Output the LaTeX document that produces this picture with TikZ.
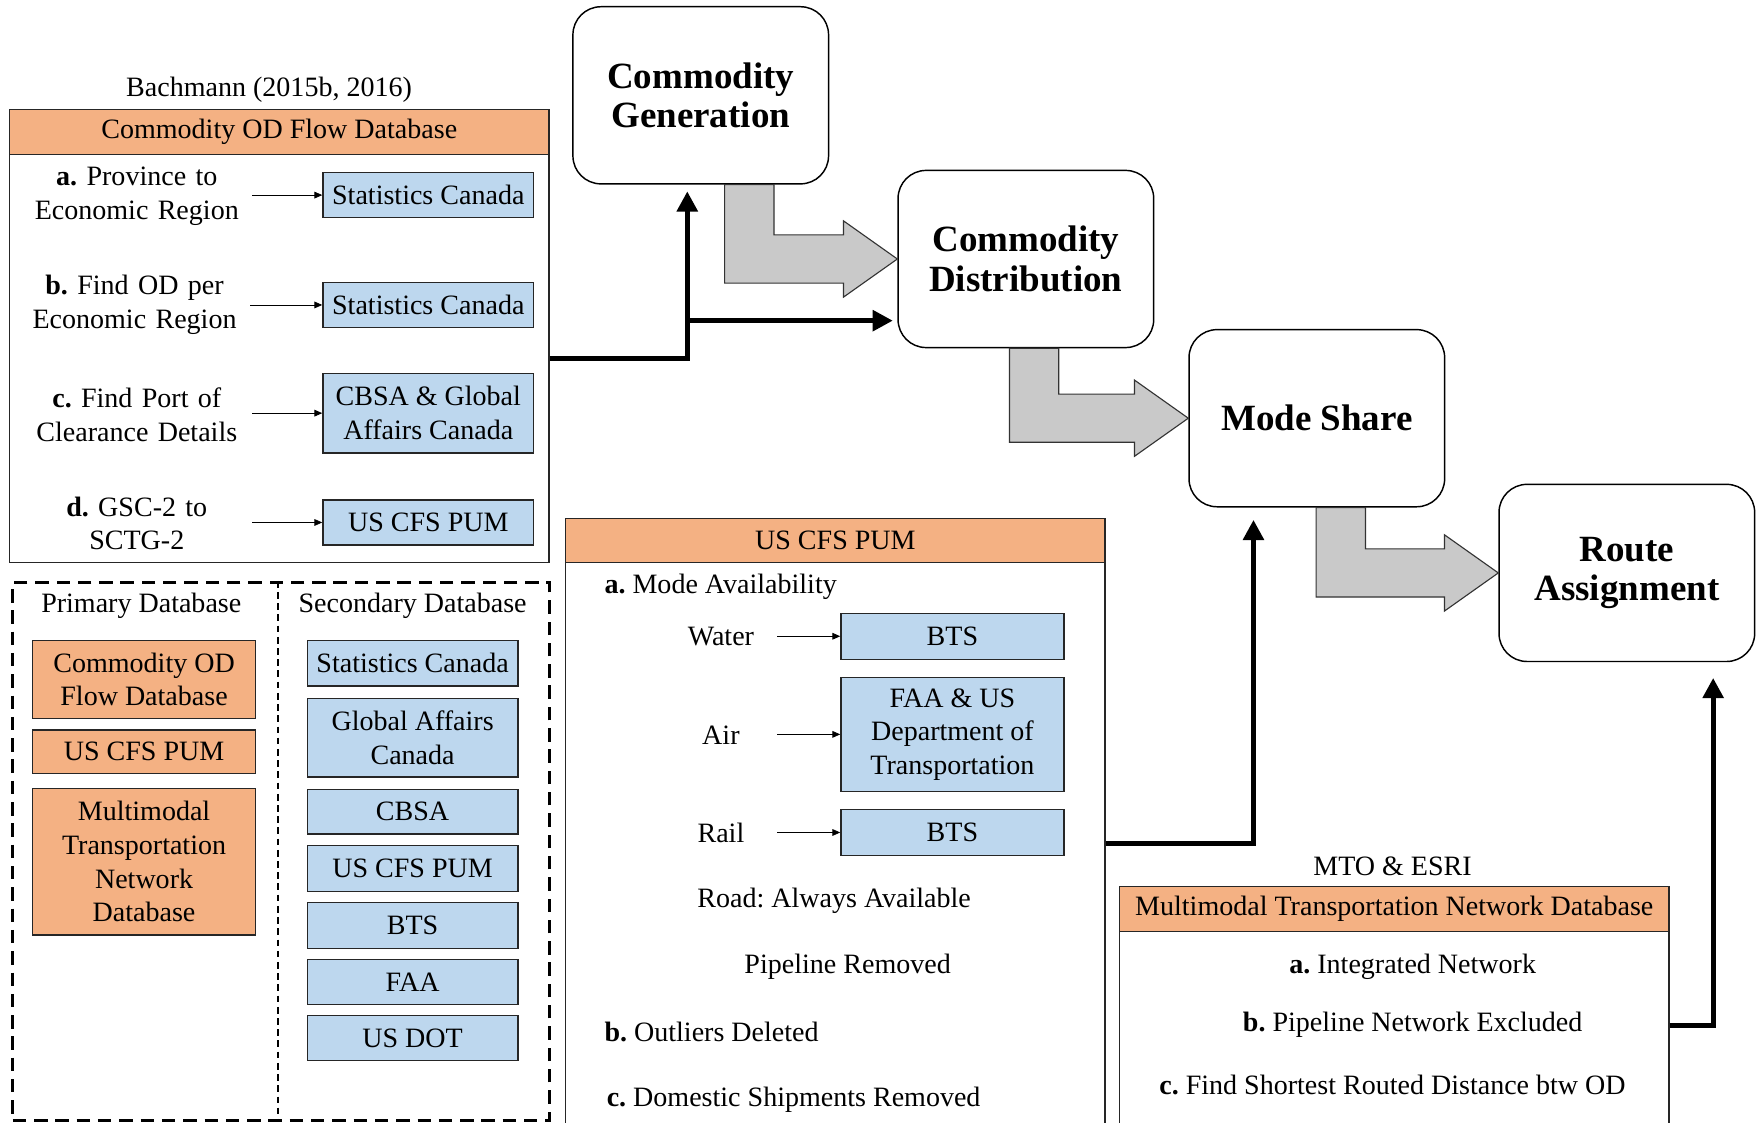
\documentclass[tikz,border=0pt]{standalone}
\usepackage{fontspec}
\setmainfont{Liberation Serif}
\usetikzlibrary{arrows.meta,calc}
\definecolor{hdrorange}{HTML}{F4B183}
\definecolor{srcblue}{HTML}{BDD7EE}
\definecolor{arrowgray}{HTML}{C9C9C9}
\newcommand\regfont{\fontsize{25}{30}\selectfont}
\newcommand\stepfont{\fontsize{33}{35}\selectfont\bfseries}
\frenchspacing
\begin{document}
\begin{tikzpicture}[x=1pt,y=-1pt,
  every node/.style={font=\regfont},
  txt/.style={inner sep=0pt, align=center},
  box/.style={draw=black!85, line width=1.2pt, inner sep=0pt, align=center},
  bluebox/.style={box, fill=srcblue},
  orangebox/.style={box, fill=hdrorange},
  frame/.style={draw=black!85, line width=1.2pt, inner sep=0pt, anchor=north west},
  stepbox/.style={draw=black, line width=1.3pt, rounded corners=25pt, minimum width=228pt, minimum height=158pt, align=center, font=\stepfont, inner sep=0pt},
  conn/.style={line width=4.5pt, -{Triangle[length=18pt,width=18pt]}, line join=miter},
  thinarrow/.style={line width=0.7pt, -{Triangle[length=7pt,width=6pt]}},
  bigarrow/.style={fill=arrowgray, draw=black!80, line width=1pt, line join=miter},
  lbl/.style={txt, text width=190pt, minimum width=206pt},
  modelbl/.style={txt, minimum width=100pt}
]
\useasboundingbox (0,0) rectangle (1568,1001);
\clip (0,0) rectangle (1568,1001);
\fill[white] (0,0) rectangle (1568,1001);

% ---------- Commodity OD Flow Database ----------
\node[txt] (bach) at (240,80) {Bachmann (2015b, 2016)};
\node[frame, minimum width=481pt, minimum height=404pt] (odbox) at (8,97) {};
\node[frame, fill=hdrorange, minimum width=481pt, minimum height=40pt] (odhdr) at (8,97) {Commodity OD Flow Database};

\node[lbl] (la) at (122,175) {\textbf{a.} Province to\\Economic Region};
\node[lbl] (lb) at (120,272) {\textbf{b.} Find OD per\\Economic Region};
\node[lbl] (lc) at (122,370) {\textbf{c.} Find Port of\\Clearance Details};
\node[lbl] (ld) at (122,467) {\textbf{d.} GSC-2 to\\SCTG-2};

\node[bluebox, minimum width=188pt, minimum height=40pt] (sa) at (382,174) {Statistics Canada};
\node[bluebox, minimum width=188pt, minimum height=40pt] (sb) at (382,272) {Statistics Canada};
\node[bluebox, minimum width=188pt, minimum height=71pt] (sc) at (382,368.5) {CBSA \& Global\\Affairs Canada};
\node[bluebox, minimum width=188pt, minimum height=40pt] (sd) at (382,466) {US CFS PUM};

\draw[thinarrow] (la.east |- sa.west) -- (sa.west);
\draw[thinarrow] (lb.east |- sb.west) -- (sb.west);
\draw[thinarrow] (lc.east |- sc.west) -- (sc.west);
\draw[thinarrow] (ld.east |- sd.west) -- (sd.west);

% ---------- Primary / Secondary ----------
\node[draw=black, line width=2.8pt, dash pattern=on 12pt off 7pt, minimum width=479pt, minimum height=480pt, anchor=north west, inner sep=0pt] (dbbox) at (10,518) {};
\draw[line width=1.4pt, dash pattern=on 6pt off 4pt] (248,518) -- (248,1001);
\node[txt] (prim) at (126,540) {Primary Database};
\node[txt] (sec) at (368,540) {Secondary Database};

\node[orangebox, minimum width=199pt, minimum height=70pt] (p1) at (128.5,606) {Commodity OD\\Flow Database};
\node[orangebox, minimum width=199pt, minimum height=39pt] (p2) at (128.5,670.5) {US CFS PUM};
\node[orangebox, minimum width=199pt, minimum height=131pt] (p3) at (128.5,768.5) {Multimodal\\Transportation\\Network\\Database};

\node[bluebox, minimum width=188pt, minimum height=41pt] (s1) at (368,591.5) {Statistics Canada};
\node[bluebox, minimum width=188pt, minimum height=70pt] (s2) at (368,658) {Global Affairs\\Canada};
\node[bluebox, minimum width=188pt, minimum height=40pt] (s3) at (368,724) {CBSA};
\node[bluebox, minimum width=188pt, minimum height=41pt] (s4) at (368,774.5) {US CFS PUM};
\node[bluebox, minimum width=188pt, minimum height=41pt] (s5) at (368,825.5) {BTS};
\node[bluebox, minimum width=188pt, minimum height=40pt] (s6) at (368,876) {FAA};
\node[bluebox, minimum width=188pt, minimum height=40pt] (s7) at (368,926) {US DOT};

% ---------- US CFS PUM ----------
\node[frame, minimum width=481pt, minimum height=600pt] (us) at (504,462) {};
\node[frame, fill=hdrorange, minimum width=481pt, minimum height=39pt] (ushdr) at (504,462) {US CFS PUM};
\node[txt, anchor=west] (ua) at (539,523) {\textbf{a.} Mode Availability};
\node[modelbl] (lw) at (643,568) {Water};
\node[modelbl] (lair) at (643,656) {Air};
\node[modelbl] (lrail) at (643,743) {Rail};
\node[bluebox, minimum width=199pt, minimum height=41pt] (btsw) at (849.5,567.5) {BTS};
\node[bluebox, minimum width=199pt, minimum height=102pt] (faa) at (849.5,655) {FAA \& US\\Department of\\Transportation};
\node[bluebox, minimum width=199pt, minimum height=41pt] (btsr) at (849.5,742.5) {BTS};
\draw[thinarrow] (lw.east |- btsw.west) -- (btsw.west);
\draw[thinarrow] (lair.east |- faa.west) -- (faa.west);
\draw[thinarrow] (lrail.east |- btsr.west) -- (btsr.west);
\node[txt] (road) at (744,803) {Road: Always Available};
\node[txt] (pipe) at (756,862) {Pipeline Removed};
\node[txt, anchor=west] (ub) at (539,920) {\textbf{b.} Outliers Deleted};
\node[txt, anchor=west] (uc) at (541,981) {\textbf{c.} Domestic Shipments Removed};

% ---------- Multimodal ----------
\node[txt] (mto) at (1242,773) {MTO \& ESRI};
\node[frame, minimum width=490pt, minimum height=400pt] (mm) at (998,790) {};
\node[frame, fill=hdrorange, minimum width=490pt, minimum height=40pt] (mmhdr) at (998,790) {Multimodal Transportation Network Database};
\node[txt] (ma) at (1260,862) {\textbf{a.} Integrated Network};
\node[txt] (mb) at (1260,914) {\textbf{b.} Pipeline Network Excluded};
\node[txt] (mc) at (1242,968) {\textbf{c.} Find Shortest Routed Distance btw OD};

% ---------- Steps ----------
\node[stepbox] (gen) at (625,85) {Commodity\\Generation};
\node[stepbox] (dist) at (915,231) {Commodity\\Distribution};
\node[stepbox] (mode) at (1174.5,373) {Mode Share};
\node[stepbox] (route) at (1451,511) {Route\\Assignment};

% gray bent arrows
\draw[bigarrow] ($(gen.south west)+(136,0)$) |- ($(dist.west)+(-48,21.5)$) -- ($(dist.west)+(-48,34)$) -- (dist.west) -- ($(dist.west)+(-48,-34)$) -- ($(dist.west)+(-48,-21.5)$) -| ($(gen.south west)+(180,0)$) -- cycle;
\draw[bigarrow] ($(dist.south west)+(100,0)$) |- ($(mode.west)+(-48,21.5)$) -- ($(mode.west)+(-48,34)$) -- (mode.west) -- ($(mode.west)+(-48,-34)$) -- ($(mode.west)+(-48,-21.5)$) -| ($(dist.south west)+(144,0)$) -- cycle;
\draw[bigarrow] ($(mode.south west)+(114,0)$) |- ($(route.west)+(-48,21.5)$) -- ($(route.west)+(-48,34)$) -- (route.west) -- ($(route.west)+(-48,-34)$) -- ($(route.west)+(-48,-21.5)$) -| ($(mode.south west)+(158,0)$) -- cycle;

% thick connectors
\coordinate (j1) at (613,320);
\coordinate (j2) at (613,286);
\coordinate (j3) at (1118,752);
\coordinate (j4) at (1528,915);
\draw[conn, shorten >=6pt] (odbox.east |- j1) -- (j1) -- (gen.south -| j1);
\draw[conn, shorten >=4pt] (j2) -- (dist.west |- j2);
\draw[conn, shorten >=11pt] (us.east |- j3) -- (j3) -- (mode.south -| j3);
\draw[conn, shorten >=14pt] (mm.east |- j4) -- (j4) -- (route.south -| j4);
\end{tikzpicture}
\end{document}
